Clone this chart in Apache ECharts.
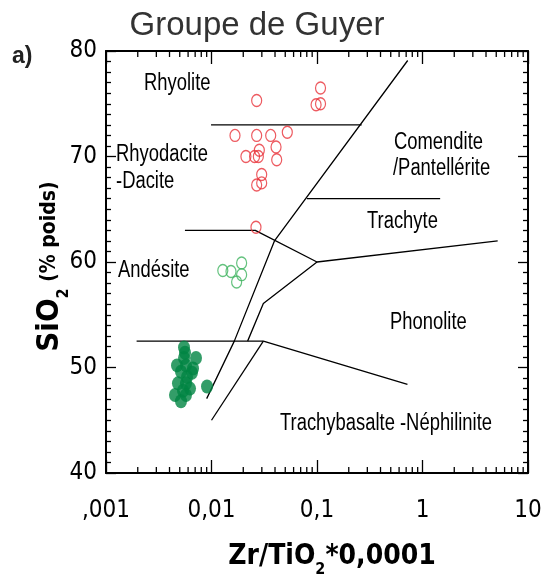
<!DOCTYPE html>
<html><head><meta charset="utf-8">
<script src="https://cdn.jsdelivr.net/npm/echarts@6/dist/echarts.min.js"></script>
<style>html,body{margin:0;padding:0;background:#fff}#c{width:546px;height:578px}</style>
</head><body><div id="c"></div>
<script>
// ---------- data ----------
const xTickValues = [0.001, 0.01, 0.1, 1, 10];
const xTickLabels = [',001', '0,01', '0,1', '1', '10'];
const yTickValues = [40, 50, 60, 70, 80];

// Rhyolite / rhyodacite samples (red open circles)
const felsicSamples = [
  [0.0268, 75.3], [0.108, 76.5], [0.098, 74.9], [0.108, 75.0],
  [0.0167, 72.0], [0.0268, 72.0], [0.0364, 72.0], [0.0523, 72.3],
  [0.0409, 70.9], [0.0415, 69.7], [0.0212, 70.0], [0.0256, 70.0],
  [0.0284, 70.6], [0.0278, 70.0], [0.0299, 68.3], [0.0268, 67.3],
  [0.0299, 67.5], [0.0264, 63.3]
];
// Andesite samples (green open circles)
const intermediateSamples = [
  [0.0128, 59.2], [0.0153, 59.1], [0.0193, 59.9], [0.0193, 58.8], [0.0173, 58.1]
];
// Basalt samples (green filled circles)
const maficSamples = [
  [0.00549, 51.9], [0.00561, 51.4], [0.00713, 50.9], [0.00549, 50.9],
  [0.00471, 50.2], [0.00573, 50.2], [0.00668, 49.9], [0.00514, 49.6],
  [0.00653, 49.5], [0.00586, 49.1], [0.00481, 48.5], [0.00573, 48.5],
  [0.00626, 48.0], [0.00537, 47.8], [0.00451, 47.4], [0.00573, 47.4],
  [0.00514, 46.8], [0.00907, 48.2]
];
// Field boundaries (Winchester & Floyd)
const lineRhyolite = [[0.0099, 73.0], [0.265, 73.0]];
const lineSubalkaline = [[0.724, 79.1], [0.0395, 62.0], [0.01645, 52.5], [0.0090, 47.05]];
const lineAndesite = [[0.0056, 63.0], [0.026, 63.0], [0.100, 60.0], [5.16, 62.0]];
const lineTrachyandesite = [[0.100, 60.0], [0.031, 56.06], [0.022, 52.5]];
const lineTrachyte = [[0.080, 66.0], [1.47, 66.0]];
const lineBasalt = [[0.00195, 52.5], [0.031, 52.5], [0.72, 48.4]];
const lineAlkaliBasalt = [[0.031, 52.5], [0.0100, 45.0]];
const boundaryLines = [lineRhyolite, lineSubalkaline, lineAndesite, lineTrachyandesite, lineTrachyte, lineBasalt, lineAlkaliBasalt];

const fieldNames = ['Rhyolite', 'Rhyodacite', '-Dacite', 'Andésite', 'Comendite', '/Pantellérite', 'Trachyte', 'Phonolite', 'Trachybasalte -Néphilinite'];

// ---------- layout ----------
const COND = "'DejaVu Sans Condensed','Liberation Sans Narrow','Arial Narrow','Liberation Sans',sans-serif";
const ARIAL = "'Liberation Sans', Arial, Helvetica, sans-serif";
const fieldLabelPos = [[144, 84], [116, 155], [116, 182], [118, 271], [394, 143], [393, 169], [367, 222], [390, 323], [280, 424]];

// minor ticks for log axis (2..9 in each decade)
const minorTickVals = [];
for (let d = 0; d < xTickValues.length - 1; d++) {
  for (let m = 2; m <= 9; m++) minorTickVals.push([xTickValues[d] * m]);
}

const chart = echarts.init(document.getElementById('c'), null, { renderer: 'canvas' });

const labelFor = v => {
  const e = Math.round(Math.log10(v));
  const i = xTickValues.findIndex(t => Math.round(Math.log10(t)) === e);
  return i >= 0 ? xTickLabels[i] : '';
};

const axisCommon = {
  axisLine: { show: true, lineStyle: { color: '#000', width: 2 } },
  splitLine: { show: false },
  nameMoveOverlap: false
};

const series = [];
boundaryLines.forEach(ln => series.push({
  type: 'line', data: ln, symbol: 'none', silent: true,
  lineStyle: { color: '#000', width: 1.3 }, z: 2, animation: false
}));
series.push({
  type: 'scatter', data: felsicSamples, symbol: 'circle', symbolSize: [10, 12],
  itemStyle: { color: 'rgba(0,0,0,0)', borderColor: '#e8323a', borderWidth: 1.3 }, z: 3, animation: false
});
series.push({
  type: 'scatter', data: intermediateSamples, symbol: 'circle', symbolSize: [10, 12],
  itemStyle: { color: 'rgba(0,0,0,0)', borderColor: '#3db35e', borderWidth: 1.3 }, z: 3, animation: false
});
series.push({
  type: 'scatter', data: maficSamples, symbol: 'circle', symbolSize: [12, 14],
  itemStyle: { color: '#008442' }, z: 3, animation: false
});
series.push({
  type: 'custom', data: minorTickVals, silent: true, clip: false, animation: false, z: 5,
  renderItem: (params, api) => {
    const v = api.value(0);
    const b = api.coord([v, 40]);
    const t = api.coord([v, 80]);
    const st = { stroke: '#000', lineWidth: 1.3 };
    return { type: 'group', children: [
      { type: 'line', shape: { x1: b[0], y1: b[1], x2: b[0], y2: b[1] - 6 }, style: st },
      { type: 'line', shape: { x1: t[0], y1: t[1], x2: t[0], y2: t[1] + 6 }, style: st }
    ]};
  }
});

const graphics = [
  { type: 'text', x: 257, y: 26, style: { text: 'Groupe de Guyer', font: '33px ' + ARIAL, fill: '#333', align: 'center', verticalAlign: 'middle' } },
  { type: 'text', x: 12, y: 57, style: { text: 'a)', font: 'bold 23px ' + ARIAL, fill: '#222', align: 'left', verticalAlign: 'middle' } }
];
fieldNames.forEach((n, i) => graphics.push({
  type: 'text', x: fieldLabelPos[i][0], y: fieldLabelPos[i][1], scaleX: 0.8, z: 10,
  style: { text: n, font: '23px ' + ARIAL, fill: '#000', align: 'left', verticalAlign: 'middle' }
}));

chart.setOption({
  animation: false,
  backgroundColor: '#fff',
  grid: { left: 106, right: 18, top: 51, bottom: 105, containLabel: false, outerBoundsMode: 'none' },
  xAxis: [
    Object.assign({
      type: 'log', logBase: 10, min: 0.001, max: 10, splitNumber: 4, position: 'bottom',
      axisTick: { show: true, inside: true, length: 13, lineStyle: { color: '#000', width: 1.3 } },
      axisLabel: { show: true, margin: 26, fontSize: 24, fontFamily: COND, color: '#000', formatter: labelFor },
      name: '{a|Zr/TiO}{s|2}{a|*0,0001}', nameLocation: 'middle', nameGap: 70,
      nameTextStyle: { padding: [0, 0, 0, 30], rich: {
        a: { fontSize: 28, fontWeight: 'bold', fontFamily: COND, color: '#000' },
        s: { fontSize: 16, fontWeight: 'bold', fontFamily: COND, color: '#000', verticalAlign: 'bottom', padding: [0, 0, -7, 0] }
      } }
    }, axisCommon),
    Object.assign({
      type: 'log', logBase: 10, min: 0.001, max: 10, splitNumber: 4, position: 'top',
      axisTick: { show: true, inside: true, length: 13, lineStyle: { color: '#000', width: 1.3 } },
      axisLabel: { show: false }
    }, axisCommon)
  ],
  yAxis: [
    Object.assign({
      type: 'value', min: 40, max: 80, interval: 10, position: 'left',
      axisTick: { show: true, inside: true, length: 10, lineStyle: { color: '#000', width: 1.3 } },
      minorTick: { show: true, splitNumber: 10, length: 5, lineStyle: { color: '#000', width: 1.3 } },
      axisLabel: { show: true, margin: 9, fontSize: 24, fontFamily: COND, color: '#000',
        formatter: v => (yTickValues.indexOf(v) >= 0 ? String(v) : '') },
      name: '{a|SiO}{s|2}{b| (% poids)}', nameLocation: 'middle', nameGap: 41, nameRotate: 90,
      nameTextStyle: { padding: [0, 9, 0, 0], rich: {
        a: { fontSize: 31, fontWeight: 'bold', fontFamily: COND, color: '#000' },
        s: { fontSize: 16, fontWeight: 'bold', fontFamily: COND, color: '#000', verticalAlign: 'bottom', padding: [0, 0, -7, 0] },
        b: { fontSize: 21, fontWeight: 'bold', fontFamily: COND, color: '#000' }
      } }
    }, axisCommon),
    Object.assign({
      type: 'value', min: 40, max: 80, interval: 10, position: 'right',
      axisTick: { show: true, inside: true, length: 10, lineStyle: { color: '#000', width: 1.3 } },
      minorTick: { show: true, splitNumber: 10, length: 5, lineStyle: { color: '#000', width: 1.3 } },
      axisLabel: { show: false }
    }, axisCommon)
  ],
  series: series,
  graphic: graphics
});
</script>
</body></html>
